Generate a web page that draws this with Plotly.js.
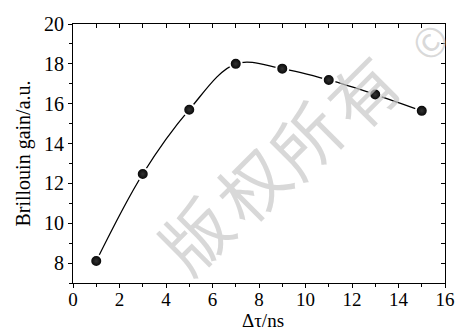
<!DOCTYPE html>
<html>
<head>
<meta charset="utf-8">
<script src="https://cdn.plot.ly/plotly-3.0.1.min.js"></script>
<style>html,body{margin:0;padding:0;background:#fff;}#chart{width:461px;height:331px;}</style>
</head>
<body>
<div id="chart"></div>
<script>
const delayNs = [1, 3, 5, 7, 9, 11, 13, 15];
const gain = [8.1, 12.47, 15.70, 18.0, 17.76, 17.19, 16.46, 15.64];
const xTitle = 'Δτ/ns';
const yTitle = 'Brillouin gain/a.u.';
const watermarkChars = ['版', '权', '所', '有', '©'];

const serif = 'Liberation Serif, Times New Roman, Times, serif';
const fnt = (s) => ({family: serif, size: s, color: '#000'});

const traces = [
  {
    x: delayNs, y: gain, type: 'scatter', mode: 'lines+markers',
    line: {shape: 'spline', smoothing: 1, color: '#000', width: 1.3},
    marker: {size: 12, color: '#000', line: {color: '#fff', width: 2},
             gradient: {type: 'radial', color: '#333'}},
    hoverinfo: 'skip', showlegend: false
  },
  {
    x: delayNs, y: gain, xaxis: 'x2', yaxis: 'y2', type: 'scatter', mode: 'markers',
    marker: {opacity: 0}, hoverinfo: 'skip', showlegend: false
  }
];

const wmX = [0.325, 0.476, 0.622, 0.775, 0.955];
const wmY = [0.190, 0.386, 0.560, 0.745, 0.935];
const wmSize = [68, 68, 68, 68, 40];
const annotations = watermarkChars.map((c, i) => ({
  text: c, xref: 'paper', yref: 'paper', x: wmX[i], y: wmY[i],
  xanchor: 'center', yanchor: 'middle',
  showarrow: false, textangle: -45,
  font: {family: 'Noto Sans CJK SC', size: wmSize[i], color: 'rgba(200,200,200,0.7)'}
}));
annotations.push({
  text: xTitle, xref: 'paper', yref: 'paper', x: 0.51, y: -0.19,
  xanchor: 'center', yanchor: 'bottom', showarrow: false, borderpad: 0,
  font: fnt(19)
});

const layout = {
  width: 461, height: 331,
  margin: {l: 73, r: 16, t: 24, b: 48},
  paper_bgcolor: '#fff', plot_bgcolor: '#fff',
  font: fnt(20),
  showlegend: false,
  xaxis: {
    range: [0, 16], dtick: 2, tick0: 0, showgrid: false, zeroline: false,
    showline: true, linecolor: '#000', linewidth: 1,
    ticks: 'outside', ticklen: 4, tickwidth: 1, tickcolor: '#000',
    ticklabelstandoff: -5,
    minor: {dtick: 1, ticks: 'outside', ticklen: 3, tickcolor: '#000', showgrid: false},
    tickfont: fnt(19)
  },
  yaxis: {
    range: [7, 20], dtick: 2, tick0: 0, showgrid: false, zeroline: false,
    showline: true, linecolor: '#000', linewidth: 1,
    ticks: 'outside', ticklen: 4, tickwidth: 1, tickcolor: '#000',
    minor: {dtick: 1, ticks: 'outside', ticklen: 3, tickcolor: '#000', showgrid: false},
    tickfont: fnt(20),
    title: {text: yTitle, font: fnt(20), standoff: 8}
  },
  xaxis2: {
    overlaying: 'x', side: 'top', range: [0, 16], dtick: 1, showticklabels: false,
    showgrid: false, zeroline: false, showline: true, linecolor: '#000', linewidth: 1,
    ticks: 'inside', ticklen: 4, tickcolor: '#000'
  },
  yaxis2: {
    overlaying: 'y', side: 'right', range: [7, 20], dtick: 1, tick0: 0, showticklabels: false,
    showgrid: false, zeroline: false, showline: true, linecolor: '#000', linewidth: 1,
    ticks: 'inside', ticklen: 4, tickcolor: '#000'
  },
  annotations: annotations
};

Plotly.newPlot('chart', traces, layout, {staticPlot: true, displayModeBar: false});
</script>
</body>
</html>
